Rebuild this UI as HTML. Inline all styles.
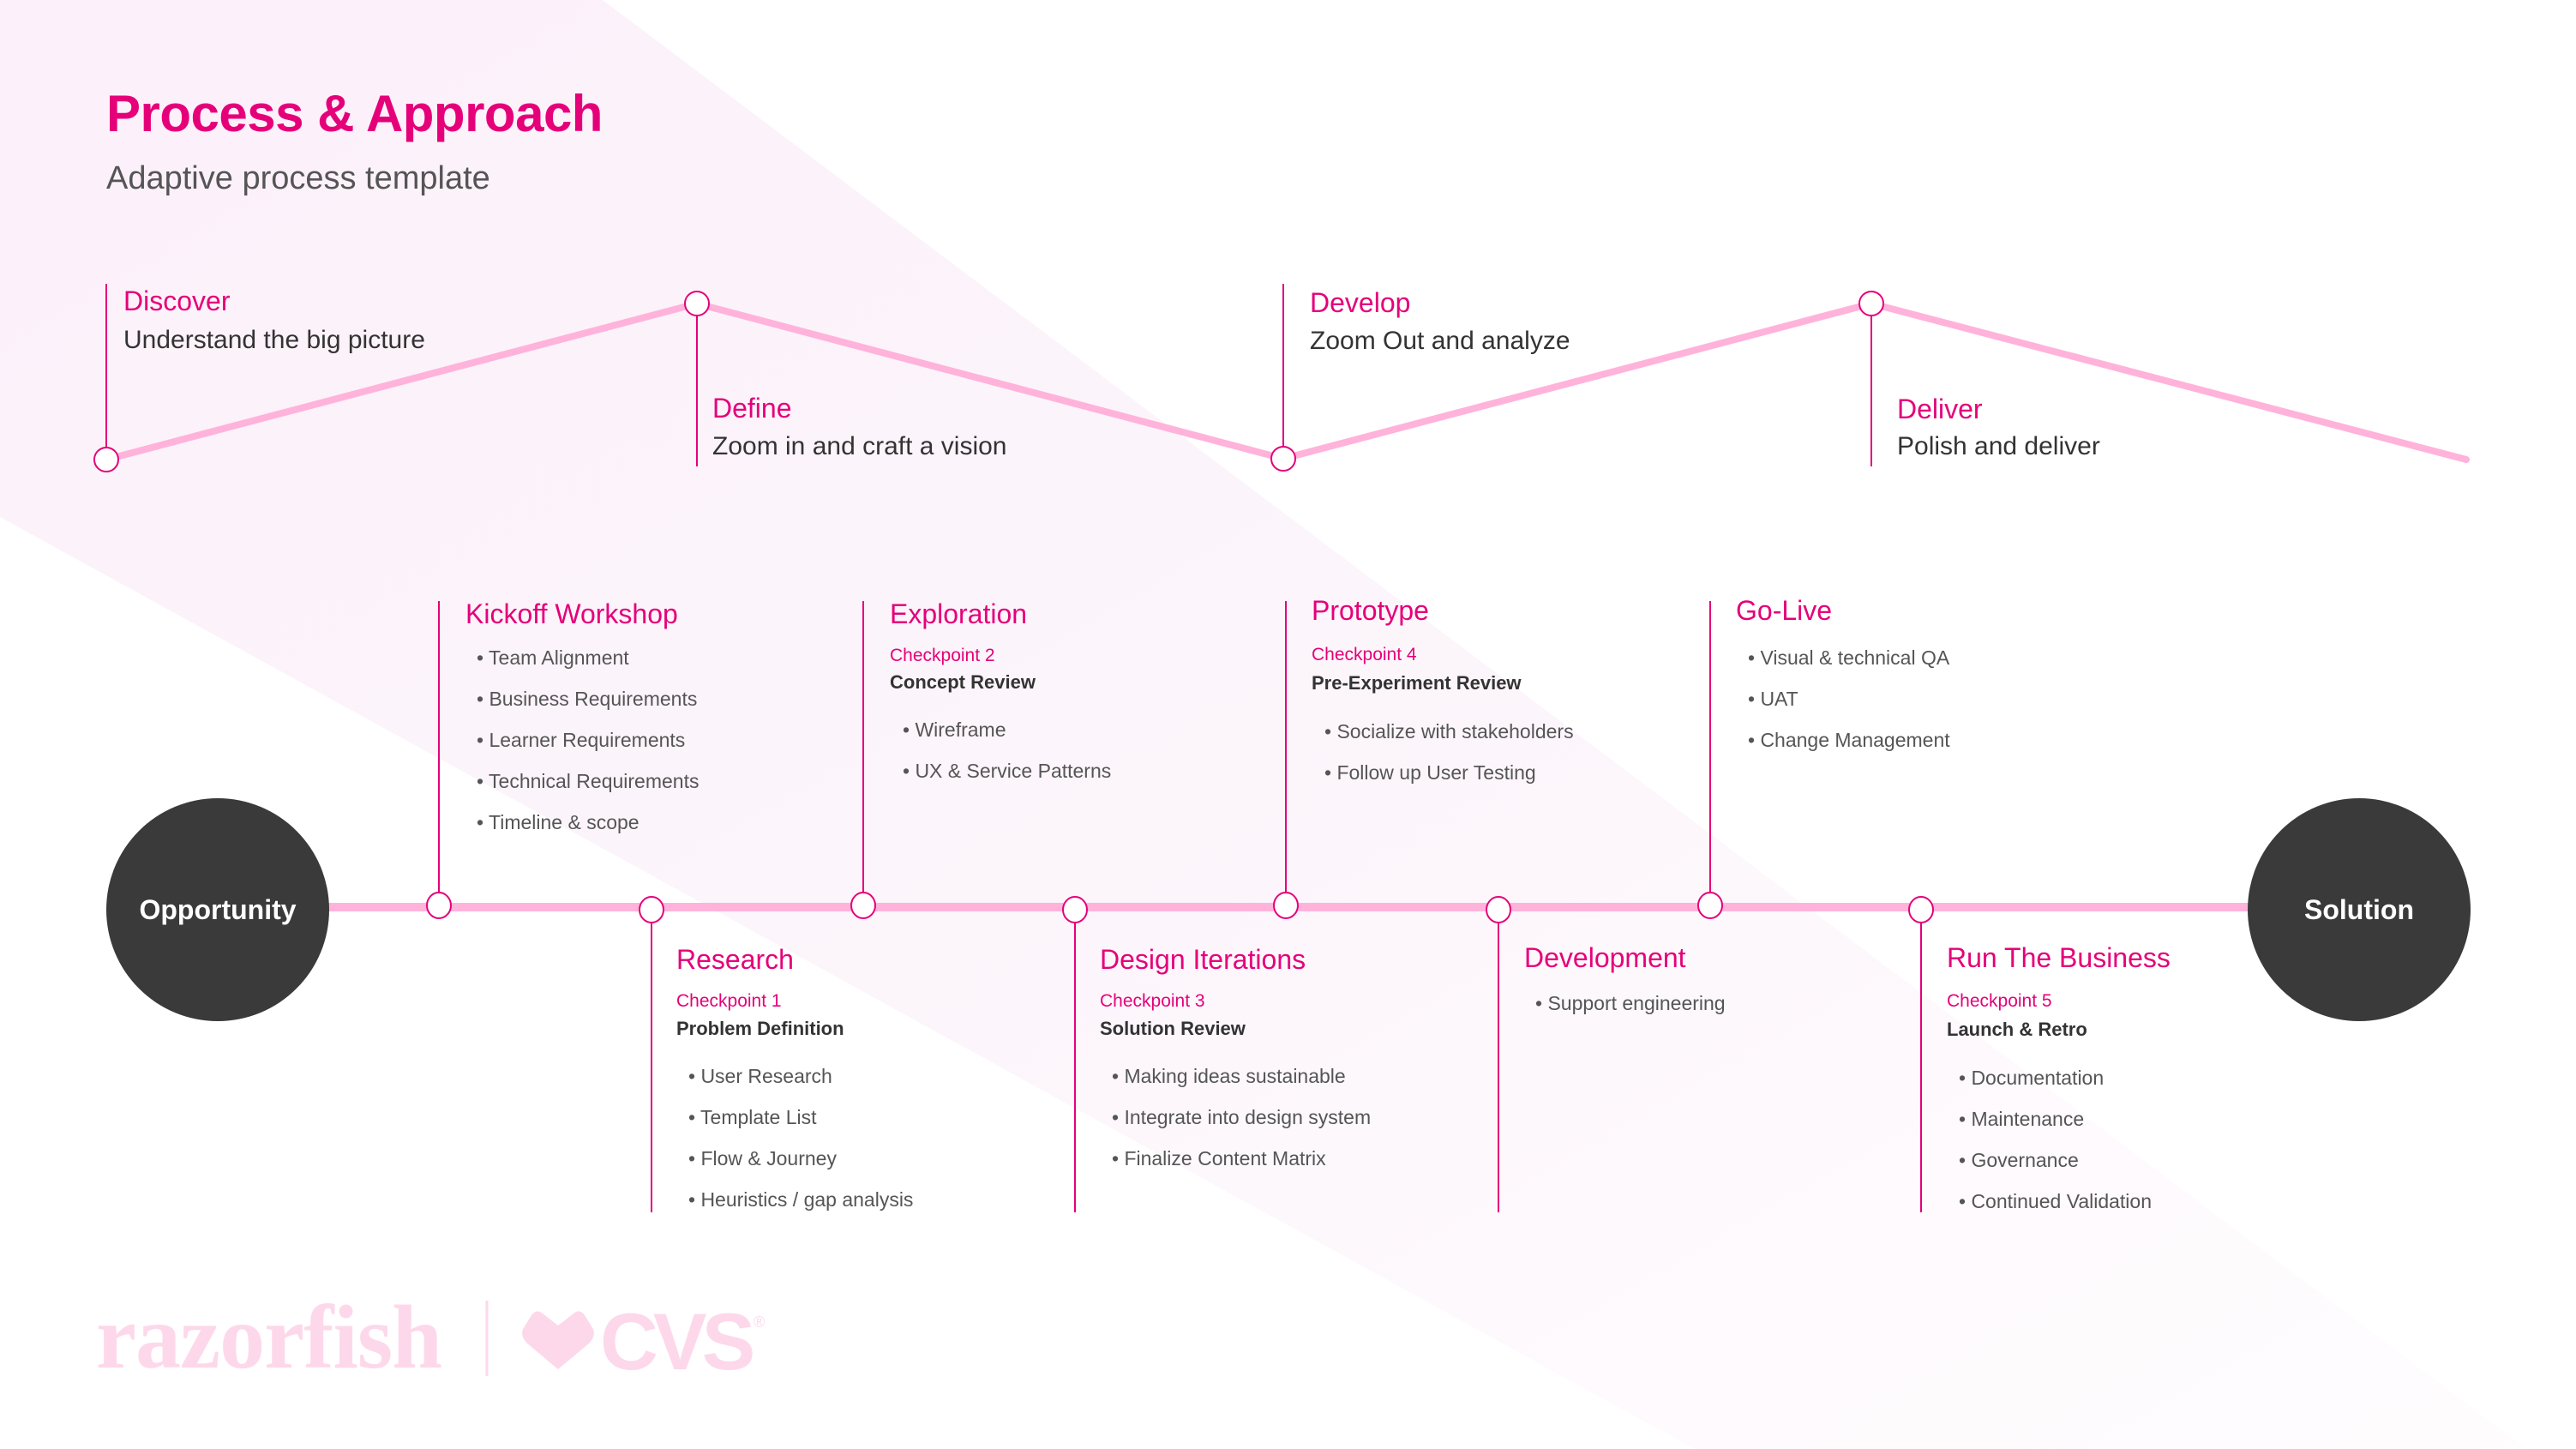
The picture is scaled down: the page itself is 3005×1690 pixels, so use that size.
<!DOCTYPE html>
<html><head><meta charset="utf-8"><style>
html,body{margin:0;padding:0;background:#fff;}
svg{display:block;}
text{font-family:"Liberation Sans",sans-serif;}
.h{font-size:32px;fill:#e5007a;}
.b{font-size:23px;fill:#555;}
.cp{font-size:21px;fill:#e5007a;}
.bd{font-size:22px;font-weight:bold;fill:#333;}
.d{font-size:30px;fill:#333;}
</style></head><body>
<svg width="3005" height="1690" viewBox="0 0 3005 1690" xmlns="http://www.w3.org/2000/svg">
<defs>
<linearGradient id="bg" x1="0" y1="0" x2="1" y2="1">
<stop offset="0" stop-color="#fcf0fa"/><stop offset="0.45" stop-color="#fcf5fb"/><stop offset="1" stop-color="#fffdfe"/>
</linearGradient>
</defs>
<polygon points="0,0 703,0 3005,1733 3005,1690 1977,1690 0,603" fill="url(#bg)"/>

<text x="124" y="153" font-size="60" font-weight="bold" fill="#e5007a" letter-spacing="-0.5">Process &amp; Approach</text>
<text x="124" y="220" font-size="38" fill="#555">Adaptive process template</text>

<line x1="124" y1="331" x2="124" y2="536" stroke="#e5007a" stroke-width="2"/>
<line x1="813" y1="354" x2="813" y2="544" stroke="#e5007a" stroke-width="2"/>
<line x1="1497" y1="331" x2="1497" y2="535" stroke="#e5007a" stroke-width="2"/>
<line x1="2183" y1="354" x2="2183" y2="544" stroke="#e5007a" stroke-width="2"/>
<polyline points="124,536 813,354 1497,535 2183,354 2877,536" fill="none" stroke="#ffb3da" stroke-width="8" stroke-linecap="round"/>
<g fill="#fff" stroke="#e5007a" stroke-width="2">
<circle cx="124" cy="536" r="14"/><circle cx="813" cy="354" r="14"/><circle cx="1497" cy="535" r="14"/><circle cx="2183" cy="354" r="14"/>
</g>
<text x="144" y="362" class="h" font-size="30">Discover</text>
<text x="144" y="406" class="d">Understand the big picture</text>
<text x="831" y="487" class="h" font-size="30">Define</text>
<text x="831" y="530" class="d">Zoom in and craft a vision</text>
<text x="1528" y="364" class="h" font-size="30">Develop</text>
<text x="1528" y="407" class="d">Zoom Out and analyze</text>
<text x="2213" y="488" class="h" font-size="30">Deliver</text>
<text x="2213" y="530" class="d">Polish and deliver</text>

<line x1="380" y1="1058" x2="2630" y2="1058" stroke="#ffb3da" stroke-width="10"/>
<g stroke="#e5007a" stroke-width="2">
<line x1="512" y1="701" x2="512" y2="1057"/><line x1="1007" y1="701" x2="1007" y2="1057"/>
<line x1="1500" y1="701" x2="1500" y2="1057"/><line x1="1995" y1="701" x2="1995" y2="1057"/>
<line x1="760" y1="1061" x2="760" y2="1414"/><line x1="1254" y1="1061" x2="1254" y2="1414"/>
<line x1="1748" y1="1061" x2="1748" y2="1414"/><line x1="2241" y1="1061" x2="2241" y2="1414"/>
</g>
<g fill="#fff" stroke="#e5007a" stroke-width="2">
<ellipse cx="512" cy="1056" rx="14" ry="15"/><ellipse cx="1007" cy="1056" rx="14" ry="15"/>
<ellipse cx="1500" cy="1056" rx="14" ry="15"/><ellipse cx="1995" cy="1056" rx="14" ry="15"/>
<ellipse cx="760" cy="1061" rx="14" ry="15"/><ellipse cx="1254" cy="1061" rx="14" ry="15"/>
<ellipse cx="1748" cy="1061" rx="14" ry="15"/><ellipse cx="2241" cy="1061" rx="14" ry="15"/>
</g>
<circle cx="254" cy="1061" r="130" fill="#3a3a3a"/>
<text x="254" y="1072" text-anchor="middle" font-size="32" font-weight="bold" fill="#fff">Opportunity</text>
<circle cx="2752" cy="1061" r="130" fill="#3a3a3a"/>
<text x="2752" y="1072" text-anchor="middle" font-size="32" font-weight="bold" fill="#fff">Solution</text>

<text x="543" y="727" class="h">Kickoff Workshop</text>
<g class="b"><text x="556" y="775">•  Team Alignment</text><text x="556" y="823">•  Business Requirements</text><text x="556" y="871">•  Learner Requirements</text><text x="556" y="919">•  Technical Requirements</text><text x="556" y="967">•  Timeline &amp; scope</text></g>
<text x="1038" y="727" class="h">Exploration</text>
<text x="1038" y="771" class="cp">Checkpoint 2</text>
<text x="1038" y="803" class="bd">Concept Review</text>
<g class="b"><text x="1053" y="859">•  Wireframe</text><text x="1053" y="907">•  UX &amp; Service Patterns</text></g>
<text x="1530" y="723" class="h">Prototype</text>
<text x="1530" y="770" class="cp">Checkpoint 4</text>
<text x="1530" y="804" class="bd">Pre-Experiment Review</text>
<g class="b"><text x="1545" y="861">•  Socialize with stakeholders</text><text x="1545" y="909">•  Follow up User Testing</text></g>
<text x="2025" y="723" class="h">Go-Live</text>
<g class="b"><text x="2039" y="775">•  Visual &amp; technical QA</text><text x="2039" y="823">•  UAT</text><text x="2039" y="871">•  Change Management</text></g>
<text x="789" y="1130" class="h">Research</text>
<text x="789" y="1174" class="cp">Checkpoint 1</text>
<text x="789" y="1207" class="bd">Problem Definition</text>
<g class="b"><text x="803" y="1263">•  User Research</text><text x="803" y="1311">•  Template List</text><text x="803" y="1359">•  Flow &amp; Journey</text><text x="803" y="1407">•  Heuristics / gap analysis</text></g>
<text x="1283" y="1130" class="h">Design Iterations</text>
<text x="1283" y="1174" class="cp">Checkpoint 3</text>
<text x="1283" y="1207" class="bd">Solution Review</text>
<g class="b"><text x="1297" y="1263">•  Making ideas sustainable</text><text x="1297" y="1311">•  Integrate into design system</text><text x="1297" y="1359">•  Finalize Content Matrix</text></g>
<text x="1778" y="1128" class="h">Development</text>
<g class="b"><text x="1791" y="1178">•  Support engineering</text></g>
<text x="2271" y="1128" class="h">Run The Business</text>
<text x="2271" y="1174" class="cp">Checkpoint 5</text>
<text x="2271" y="1208" class="bd">Launch &amp; Retro</text>
<g class="b"><text x="2285" y="1265">•  Documentation</text><text x="2285" y="1313">•  Maintenance</text><text x="2285" y="1361">•  Governance</text><text x="2285" y="1409">•  Continued Validation</text></g>

<text x="112" y="1595" style="font-family:'Liberation Serif',serif" font-size="106" font-weight="bold" fill="#fdd8ea" letter-spacing="-1">razorfish</text>
<line x1="568" y1="1517" x2="568" y2="1605" stroke="#fdd8ea" stroke-width="3"/>
<path d="M651,1597 L614,1566 Q607,1558 610,1550 L620,1534 Q626,1526 633,1532 L651,1546 L669,1532 Q676,1526 682,1534 L692,1550 Q695,1558 688,1566 Z" fill="#fdd8ea"/>
<text x="700" y="1597" font-size="94" font-weight="bold" fill="#fdd8ea" letter-spacing="-6">CVS</text>
<text x="879" y="1548" font-size="18" fill="#fdd8ea">®</text>
</svg>
</body></html>
